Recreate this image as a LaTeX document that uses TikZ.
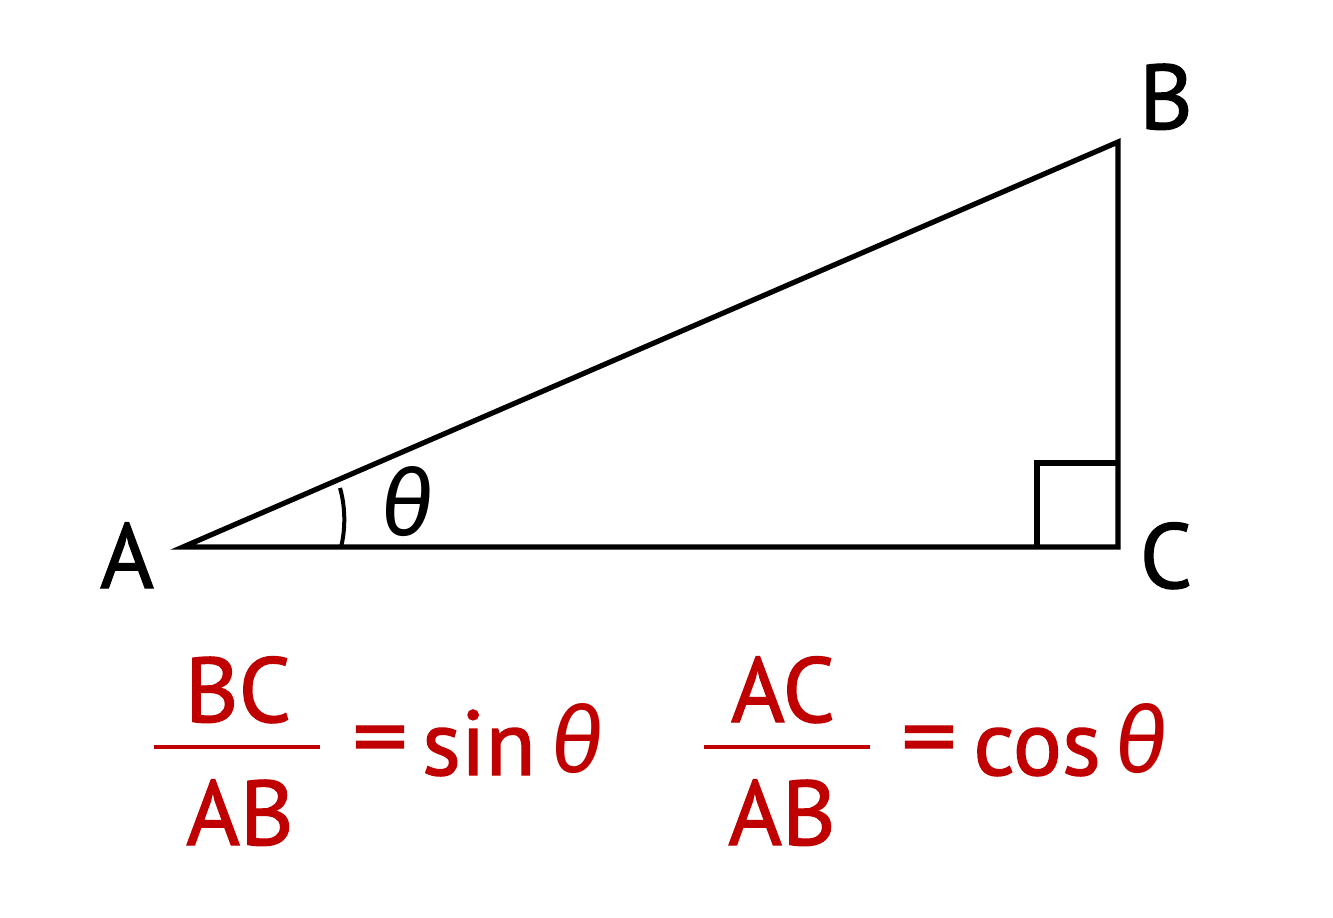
\documentclass[tikz,border=0pt]{standalone}
\usepackage{fontspec}
\setmainfont[FakeBold=1.4]{PT Sans}
\newfontfamily\grkfont{Fira Sans}
\usetikzlibrary{positioning}
\definecolor{ratiored}{HTML}{C00000}

\begin{document}
\begin{tikzpicture}[x=0.5pt,y=-0.5pt,line width=2.6pt,line join=miter,
    vertex/.style={font=\fontsize{46}{46}\selectfont,anchor=base,inner sep=0pt},
    ratio/.style={vertex,text=ratiored},
    angle label/.style={font=\fontsize{46}{46}\selectfont\grkfont\itshape,anchor=base,inner sep=0pt}]
  \useasboundingbox (0,0) rectangle (1333,917);
  % triangle
  \coordinate (A) at (183,547);
  \coordinate (B) at (1118,142);
  \coordinate (C) at (1118,547);
  \draw (A) -- (B) -- (C) -- cycle;
  \draw (1037,547) -- (1037,463) -- (1118,463);
  \draw[line width=2pt] (341,547) .. controls (346,528) and (345,505) .. (340,488);
  \node[vertex] (labA) at (127,588) {A};
  \node[vertex] (labB) at (1166,129) {B};
  \node[vertex] (labC) at (1166,588) {C};
  \node[angle label] (theta) at (407,535) {θ};
  % sine
  \node[ratio] (sinnum) at (238,722) {BC};
  \node[ratio] (sinden) at (240,845) {AB};
  \draw[ratiored,line width=2.2pt] (154,747) -- (320,747);
  \node[ratio] (sineq) at (380,768) {\scalebox{1.2}[1]{=}};
  \node[ratio] (sinfn) at (479,775) {sin};
  \node[angle label,text=ratiored] (sinth) at (577,772) {θ};
  % cosine
  \node[ratio] (cosnum) at (783,722) {AC};
  \node[ratio] (cosden) at (782,845) {AB};
  \draw[ratiored,line width=2.2pt] (704,747) -- (870,747);
  \node[ratio] (coseq) at (929,768) {\scalebox{1.2}[1]{=}};
  \node[ratio] (cosfn) at (1037,775) {cos};
  \node[angle label,text=ratiored] (costh) at (1141,772) {θ};
\end{tikzpicture}
\end{document}
